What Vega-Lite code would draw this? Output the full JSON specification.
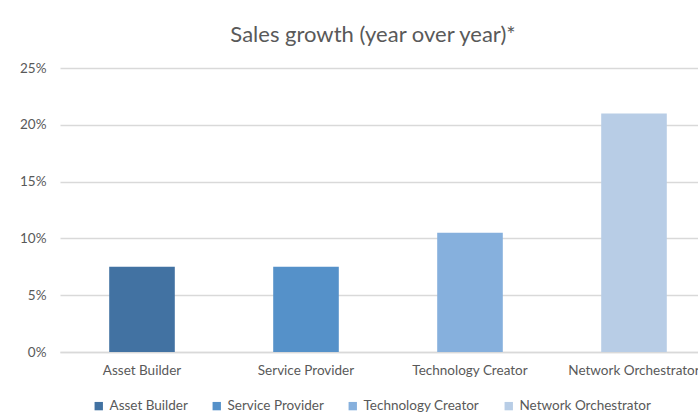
{
  "$schema": "https://vega.github.io/schema/vega-lite/v6.json",
  "width": 656,
  "height": 284,
  "padding": {"left": 5, "top": 24, "right": 0, "bottom": 0},
  "background": "white",
  "title": {
    "text": "Sales growth (year over year)*",
    "font": "Lato",
    "fontSize": 22,
    "fontWeight": "normal",
    "color": "#595959",
    "anchor": "middle",
    "dx": -15,
    "offset": 14
  },
  "config": {
    "view": {"stroke": null},
    "font": "Lato",
    "axis": {
      "labelFont": "Lato",
      "labelFontSize": 13.5,
      "labelColor": "#595959",
      "ticks": false,
      "title": null
    },
    "legend": {
      "labelFont": "Lato",
      "labelFontSize": 13.5,
      "labelColor": "#595959"
    }
  },
  "data": {
    "values": [
      {"type": "Asset Builder", "growth": 0.075},
      {"type": "Service Provider", "growth": 0.075},
      {"type": "Technology Creator", "growth": 0.105},
      {"type": "Network Orchestrator", "growth": 0.21}
    ]
  },
  "mark": {"type": "bar"},
  "encoding": {
    "x": {
      "field": "type",
      "type": "nominal",
      "sort": null,
      "scale": {"paddingInner": 0.6, "paddingOuter": 0.3},
      "axis": {
        "labelAngle": 0,
        "labelPadding": 11,
        "domainColor": "#D9D9D9",
        "domainWidth": 1.5,
        "grid": false
      }
    },
    "y": {
      "field": "growth",
      "type": "quantitative",
      "scale": {"domain": [0, 0.25]},
      "axis": {
        "values": [0, 0.05, 0.1, 0.15, 0.2, 0.25],
        "format": ".0%",
        "domain": false,
        "grid": true,
        "gridColor": "#D9D9D9",
        "gridWidth": 1.5,
        "labelPadding": 14,
        "minExtent": 55
      }
    },
    "color": {
      "field": "type",
      "type": "nominal",
      "sort": null,
      "scale": {
        "domain": ["Asset Builder", "Service Provider", "Technology Creator", "Network Orchestrator"],
        "range": ["#4272A2", "#5591C9", "#86B0DD", "#B8CDE6"]
      },
      "legend": {
        "title": null,
        "orient": "none",
        "direction": "horizontal",
        "legendX": 32,
        "legendY": 331,
        "symbolType": "square",
        "symbolSize": 70,
        "symbolStrokeWidth": 0,
        "columnPadding": 22,
        "labelOffset": 4
      }
    }
  }
}
